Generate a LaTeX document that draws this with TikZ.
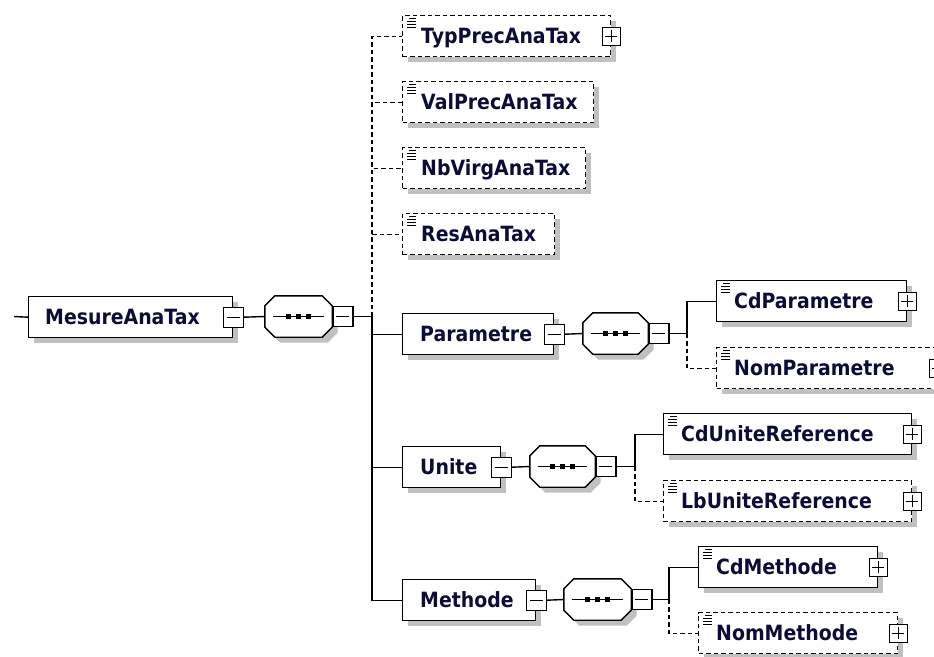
\documentclass[tikz,border=0pt]{standalone}
\usepackage{fontspec}
\newfontfamily\lblfont[FakeStretch=0.9]{DejaVu Sans}
\usetikzlibrary{calc,shadows}
\definecolor{shadowc}{RGB}{192,192,192}
\definecolor{txtc}{RGB}{12,12,56}
\tikzset{
  conn/.style={line width=1.4pt},
  dconn/.style={line width=1.4pt, dash pattern=on 4.5pt off 3pt},
  elembox/.style={draw, fill=white, line width=1.4pt, anchor=north west, minimum height=41pt, inner sep=0pt,
    drop shadow={shadow xshift=5.5pt, shadow yshift=-5.5pt, opacity=1, fill=shadowc}},
  optbox/.style={elembox, dash pattern=on 4.5pt off 3pt},
  seqn/.style={inner sep=0pt, minimum height=41pt},
  lbl/.style={anchor=base west, inner sep=0pt, text=txtc, font=\lblfont\bfseries\fontsize{21}{25}\selectfont},
  btn/.style={draw, solid, fill=white, line width=1.4pt, minimum width=20pt, minimum height=20pt, inner sep=0pt},
  minusbtn/.style={btn, path picture={\draw[line width=1.4pt] ([xshift=-6.5pt]path picture bounding box.center) -- ([xshift=6.5pt]path picture bounding box.center);}},
  plusbtn/.style={btn, minimum width=18pt, minimum height=18pt, path picture={
     \draw[line width=1.4pt] ([xshift=-6pt]path picture bounding box.center) -- ([xshift=6pt]path picture bounding box.center);
     \draw[line width=1.4pt] ([yshift=-6pt]path picture bounding box.center) -- ([yshift=6pt]path picture bounding box.center);}}
}
\newcommand\seqsym[1]{%
  \fill[shadowc] ($(#1.north west)+(15.5,5.5)$) -- ($(#1.north east)+(-4.5,5.5)$) -- ($(#1.north east)+(5.5,15.5)$) -- ($(#1.south east)+(5.5,-4.5)$) -- ($(#1.south east)+(-4.5,5.5)$) -- ($(#1.south west)+(15.5,5.5)$) -- ($(#1.south west)+(5.5,-4.5)$) -- ($(#1.north west)+(5.5,15.5)$) -- cycle;
  \draw[conn, fill=white] ($(#1.north west)+(10,0)$) -- ($(#1.north east)+(-10,0)$) -- ($(#1.north east)+(0,10)$) -- ($(#1.south east)+(0,-10)$) -- ($(#1.south east)+(-10,0)$) -- ($(#1.south west)+(10,0)$) -- ($(#1.south west)+(0,-10)$) -- ($(#1.north west)+(0,10)$) -- cycle;
  \draw[conn] ($(#1.west)+(8,0)$) -- ($(#1.east)+(-8,0)$);
  \fill ($(#1.center)+(-12.5,-2.5)$) rectangle +(5,5);
  \fill ($(#1.center)+(-2.5,-2.5)$) rectangle +(5,5);
  \fill ($(#1.center)+(7.5,-2.5)$) rectangle +(5,5);
}
\newcommand\eicon[1]{%
  \draw[line width=0.8pt] ($(#1.north west)+(7,3)$) -- +(7,0);
  \draw[line width=0.8pt] ($(#1.north west)+(5,6)$) -- +(9,0);
  \draw[line width=0.8pt] ($(#1.north west)+(5,9)$) -- +(9,0);
  \draw[line width=0.8pt] ($(#1.north west)+(5,12)$) -- +(9,0);
}
\begin{document}
\begin{tikzpicture}[x=1pt,y=-1pt]
\useasboundingbox (0,0) rectangle (934,656);
\fill[white] (0,0) rectangle (934,656);
\clip (0,0) rectangle (934,656);

% root
\coordinate (start) at (14,316.5);
\node[elembox, minimum width=204pt] (mes) at (28,296) {};
\node[lbl] (mesl) at ($(mes.west)+(17,7.5)$) {MesureAnaTax};
\node[minusbtn] (mesb) at (mes.east) {};
\node[seqn, minimum width=67pt] (s1) at (298.5,316.5) {};
\seqsym{s1}
\node[minusbtn, anchor=west] (s1b) at (s1.east) {};
\coordinate (t1) at (372,316.5);

% optional simple children
\node[optbox, minimum width=208pt] (typ) at (402,15) {};
\eicon{typ}
\node[lbl] (typl) at ($(typ.west)+(19,7.5)$) {TypPrecAnaTax};
\node[plusbtn] (typb) at (typ.east) {};

\node[optbox, minimum width=191pt] (val) at (402,81) {};
\eicon{val}
\node[lbl] (vall) at ($(val.west)+(19,7.5)$) {ValPrecAnaTax};

\node[optbox, minimum width=183pt] (nbv) at (402,147) {};
\eicon{nbv}
\node[lbl] (nbvl) at ($(nbv.west)+(19,7.5)$) {NbVirgAnaTax};

\node[optbox, minimum width=152pt] (res) at (402,213) {};
\eicon{res}
\node[lbl] (resl) at ($(res.west)+(19,7.5)$) {ResAnaTax};

% Parametre
\node[elembox, minimum width=151pt] (par) at (402,313) {};
\node[lbl] (parl) at ($(par.west)+(18,7.5)$) {Parametre};
\node[minusbtn] (parb) at (par.east) {};
\node[seqn, minimum width=65pt] (s2) at (615.5,333.5) {};
\seqsym{s2}
\node[minusbtn, anchor=west] (s2b) at (s2.east) {};
\coordinate (t2) at (687,333.5);
\node[elembox, minimum width=190pt] (cdp) at (716,280) {};
\eicon{cdp}
\node[lbl] (cdpl) at ($(cdp.west)+(18,7.5)$) {CdParametre};
\node[plusbtn] (cdpb) at (cdp.east) {};
\node[optbox, minimum width=221pt] (nomp) at (716,347) {};
\eicon{nomp}
\node[lbl] (nompl) at ($(nomp.west)+(18,7.5)$) {NomParametre};
\node[plusbtn] (nompb) at (nomp.east) {};

% Unite
\node[elembox, minimum width=98pt] (uni) at (402,446) {};
\node[lbl] (unil) at ($(uni.west)+(18,7.5)$) {Unite};
\node[minusbtn] (unib) at (uni.east) {};
\node[seqn, minimum width=65pt] (s3) at (562.5,466.5) {};
\seqsym{s3}
\node[minusbtn, anchor=west] (s3b) at (s3.east) {};
\coordinate (t3) at (635,466.5);
\node[elembox, minimum width=248pt] (cdu) at (663,413) {};
\eicon{cdu}
\node[lbl] (cdul) at ($(cdu.west)+(18,7.5)$) {CdUniteReference};
\node[plusbtn] (cdub) at (cdu.east) {};
\node[optbox, minimum width=248pt] (lbu) at (663,480) {};
\eicon{lbu}
\node[lbl] (lbul) at ($(lbu.west)+(18,7.5)$) {LbUniteReference};
\node[plusbtn] (lbub) at (lbu.east) {};

% Methode
\node[elembox, minimum width=133pt] (met) at (402,579) {};
\node[lbl] (metl) at ($(met.west)+(18,7.5)$) {Methode};
\node[minusbtn] (metb) at (met.east) {};
\node[seqn, minimum width=67pt] (s4) at (597.5,599.5) {};
\seqsym{s4}
\node[minusbtn, anchor=west] (s4b) at (s4.east) {};
\coordinate (t4) at (669,599.5);
\node[elembox, minimum width=179pt] (cdm) at (698,546) {};
\eicon{cdm}
\node[lbl] (cdml) at ($(cdm.west)+(18,7.5)$) {CdMethode};
\node[plusbtn] (cdmb) at (cdm.east) {};
\node[optbox, minimum width=199pt] (nomm) at (698,612) {};
\eicon{nomm}
\node[lbl] (somml) at ($(nomm.west)+(18,7.5)$) {NomMethode};
\node[plusbtn] (nommb) at (nomm.east) {};

% connectors
\draw[conn] (start) -- (mes.west);
\draw[conn] (mesb.east) -- (s1.west);
\draw[conn] (s1b.east) -- (t1);
\draw[dconn] (t1) |- (typ.west);
\draw[dconn] (t1) |- (val.west);
\draw[dconn] (t1) |- (nbv.west);
\draw[dconn] (t1) |- (res.west);
\draw[conn] (t1) |- (par.west);
\draw[conn] (t1) |- (uni.west);
\draw[conn] (t1) |- (met.west);

\draw[conn] (parb.east) -- (s2.west);
\draw[conn] (s2b.east) -- (t2);
\draw[conn] (t2) |- (cdp.west);
\draw[dconn] (t2) |- (nomp.west);

\draw[conn] (unib.east) -- (s3.west);
\draw[conn] (s3b.east) -- (t3);
\draw[conn] (t3) |- (cdu.west);
\draw[dconn] (t3) |- (lbu.west);

\draw[conn] (metb.east) -- (s4.west);
\draw[conn] (s4b.east) -- (t4);
\draw[conn] (t4) |- (cdm.west);
\draw[dconn] (t4) |- (nomm.west);
\end{tikzpicture}
\end{document}
